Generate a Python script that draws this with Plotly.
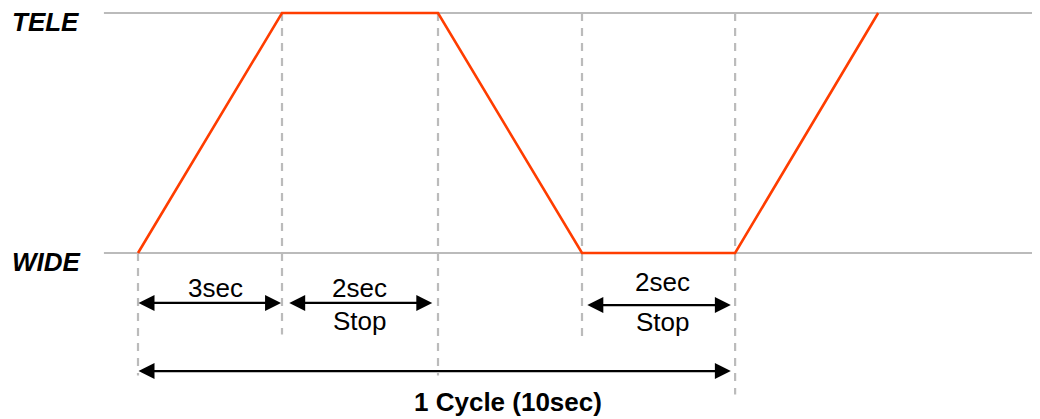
import plotly.graph_objects as go

# Schematic time positions (drawing units) and zoom level (0 = WIDE, 1 = TELE)
zoom_x = [0, 3, 6.25, 9.25, 12.44, 15.42]
zoom_y = [0, 1, 1, 0, 0, 1]

level_names = ["TELE", "WIDE"]
level_y = [1, 0]

# Dashed guide lines: x position, top, bottom
guide_x = [0, 3, 6.25, 9.25, 12.44]
guide_top = [0, 1, 1, 1, 1]
guide_bottom = [-0.51, -0.34, -0.51, -0.36, -0.59]

# Dimension arrows: start, end, y
span_start = [-0.02, 3.12, 9.33, -0.02]
span_end = [2.98, 6.13, 12.35, 12.35]
span_y = [-0.208, -0.208, -0.217, -0.492]

# Labels: text, x, y, bold
label_text = ["3sec", "2sec", "Stop", "2sec", "Stop", "1 Cycle (10sec)"]
label_x = [1.62, 4.62, 4.62, 10.92, 10.94, 7.71]
label_y = [-0.146, -0.146, -0.284, -0.121, -0.288, -0.621]
label_bold = [False, False, False, False, False, True]

GRAY = "#bbbbbb"
ORANGE = "#ff3d00"

fig = go.Figure()

# level lines
for ly in level_y:
    fig.add_trace(go.Scatter(x=[-0.71, 19], y=[ly, ly], mode="lines",
                             line=dict(color=GRAY, width=2.2), hoverinfo="skip"))

# dashed guides
for gx, gt, gb in zip(guide_x, guide_top, guide_bottom):
    fig.add_trace(go.Scatter(x=[gx, gx], y=[gt, gb], mode="lines",
                             line=dict(color=GRAY, width=2.2, dash="8px,7px"),
                             hoverinfo="skip"))

# zoom profile
fig.add_trace(go.Scatter(x=zoom_x, y=zoom_y, mode="lines",
                         line=dict(color=ORANGE, width=2.6), hoverinfo="skip"))

annotations = []
for s, e, yv in zip(span_start, span_end, span_y):
    annotations.append(dict(x=e, y=yv, ax=s, ay=yv, xref="x", yref="y",
                            axref="x", ayref="y", text="", showarrow=True,
                            arrowhead=2, startarrowhead=2, arrowside="end+start",
                            arrowsize=1.45, startarrowsize=1.45, arrowwidth=2.2,
                            arrowcolor="black", standoff=0, startstandoff=0))

for t, lx, lyv, b in zip(label_text, label_x, label_y, label_bold):
    annotations.append(dict(x=lx, y=lyv, xref="x", yref="y", text=f"<b>{t}</b>" if b else t,
                            showarrow=False, xanchor="center", yanchor="middle",
                            font=dict(family="Liberation Sans", size=26, color="black")))

for name, ly in zip(level_names, level_y):
    annotations.append(dict(x=-2.67, y=ly - 0.037, xref="x", yref="y",
                            text=f"<b><i>{name}</i></b>", showarrow=False,
                            xanchor="left", yanchor="middle",
                            font=dict(family="Liberation Sans", size=26, color="black")))

# The page body has an 8px margin, so the figure starts at page pixel 8.
fig.update_layout(
    width=1032, height=411,
    margin=dict(l=0, r=0, t=0, b=0),
    paper_bgcolor="white", plot_bgcolor="white",
    showlegend=False,
    annotations=annotations,
    xaxis=dict(range=[(8 - 138) / 48, (1040 - 138) / 48], visible=False, fixedrange=True),
    yaxis=dict(range=[-(419 - 253) / 240, 1 + (13 - 8) / 240], visible=False, fixedrange=True),
)

fig.write_html("out.html")
